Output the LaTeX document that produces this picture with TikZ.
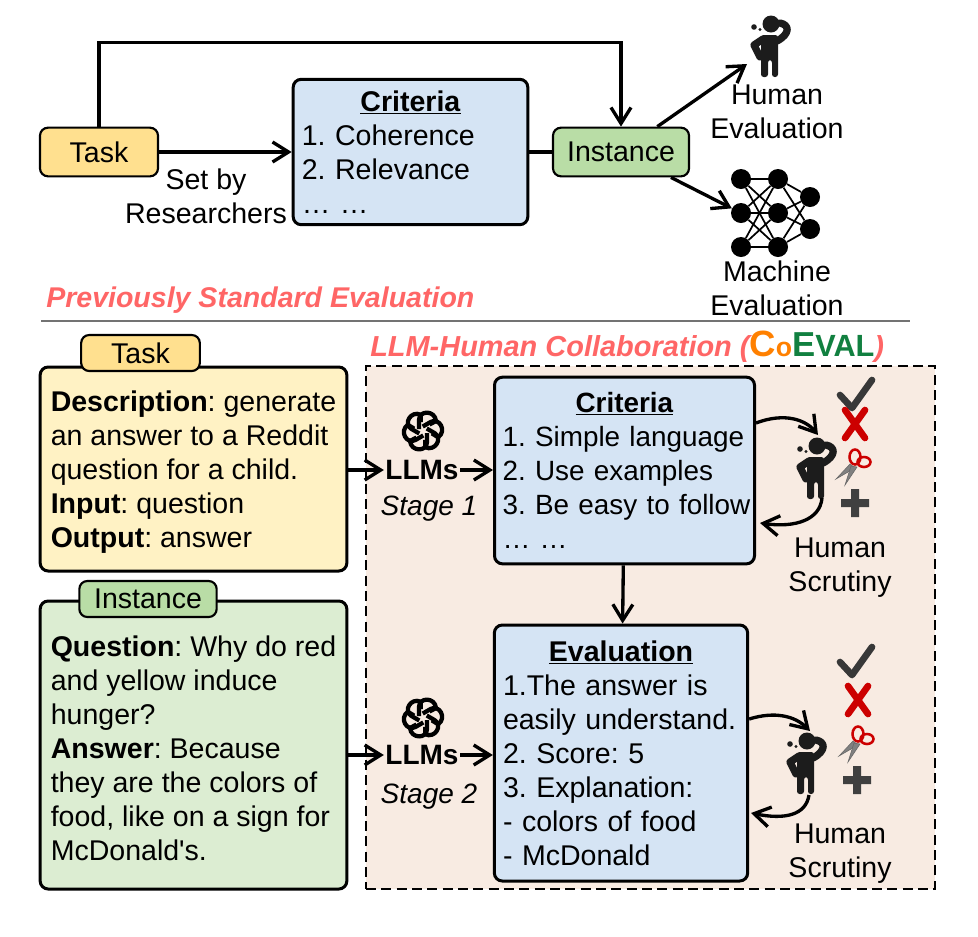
\documentclass[tikz,border=0pt]{standalone}
\usepackage{fontspec}
\setmainfont{Liberation Sans}
\usetikzlibrary{arrows.meta}

\definecolor{bluebox}{HTML}{D5E4F4}
\definecolor{yellowtab}{HTML}{FFE08F}
\definecolor{yellowbox}{HTML}{FFF2C4}
\definecolor{greentab}{HTML}{B9DDA6}
\definecolor{greenbox}{HTML}{DCEDD2}
\definecolor{peach}{HTML}{F8EBE2}
\definecolor{titlered}{HTML}{FF6666}
\definecolor{coorange}{HTML}{FF8000}
\definecolor{cogreen}{HTML}{118040}
\definecolor{darkicon}{HTML}{1C1C1C}
\definecolor{markred}{HTML}{CC0000}

\newcommand{\boxtitle}[1]{\makebox[\linewidth][c]{\underline{\textbf{#1}}}}
\newcommand{\lift}{\rule{0pt}{20pt}}
\frenchspacing
\hyphenpenalty=10000

\tikzset{
  txt/.style={font=\fontsize{21.4}{25.5}\selectfont, inner sep=0pt, align=center},
  card/.style={draw, rounded corners=6pt, line width=2.25pt, inner sep=0pt,
    font=\fontsize{21.4}{25.5}\selectfont, align=left},
  tab/.style={card, line width=1.6pt, align=center},
  arr/.style={line width=2.5pt, -{Straight Barb[length=12pt,width=15pt]}},
  llm/.style={font=\fontsize{21}{25.5}\selectfont\bfseries, inner sep=1pt},
  stage/.style={font=\fontsize{21}{25.5}\selectfont\itshape, inner sep=0pt},
  headline/.style={font=\fontsize{21.4}{25.5}\selectfont\bfseries\itshape, text=titlered, anchor=west, inner sep=0pt},
  neuron/.style={circle, fill=black, minimum size=15pt, inner sep=0pt},
  pics/thinker/.style={code={
    \fill[darkicon] (0,0) circle (8.5);
    \fill[darkicon] (-17,3) circle (2.8) (-11,5.5) circle (1.7);
    \draw[darkicon, line width=5.5pt, line cap=round, line join=round]
      (9,-1) .. controls (19,1) and (19,10) .. (6,17);
    \draw[darkicon, line width=5.5pt, line cap=round, line join=round]
      (-8,15) -- (-17,21) -- (-11,33);
    \fill[darkicon, rounded corners=2pt] (-10,11) -- (7,11) -- (7,53) -- (1,53) -- (1,36)
      -- (-3,36) -- (-3,53) -- (-10,53) -- cycle;
  }},
  pics/gptlogo/.style={code={
    \foreach \a in {0,60,...,300}
      \draw[black, rotate=\a, line width=3.2pt, line join=round]
        (-4,-2) -- (-4,-11) .. controls (-4,-21) and (12,-21) .. (13,-10) -- (6.5,-6.5);
  }},
  pics/scissors/.style={code={
    \draw[markred, line width=1.9pt] (2,-11) ellipse (5.5 and 7.5) (11,-6) ellipse (6.5 and 5);
    \filldraw[black!50, draw=black!60, line width=.4pt] (-3,-4) -- (-17,11) -- (2,0) -- cycle;
    \filldraw[black!50, draw=black!60, line width=.4pt] (-2,-2) -- (-8,17) -- (4,-1) -- cycle;
  }},
  pics/checkmark/.style={code={
    \draw[black!78, line width=5pt, line cap=round, line join=round] (-12,-13) -- (0,0) -- (20,-28);
  }},
  pics/crossmark/.style={code={
    \draw[markred, line width=5pt, line cap=round] (-10,-14) -- (10,14) (10,-14) -- (-10,14);
  }},
  pics/plusmark/.style={code={
    \fill[black!75] (-14,-4) rectangle (14,4) (-4,-14) rectangle (4,14);
  }},
}

\begin{document}
\begin{tikzpicture}[x=0.75pt, y=-0.75pt]
  \useasboundingbox (0,0) rectangle (978,936);

  % upper part
  \node[tab, fill=yellowtab, minimum width=88.5pt, minimum height=36.5pt] (task) at (99,152) {Task};
  \node[card, fill=bluebox, minimum width=176pt, minimum height=109pt, text width=163pt] (crit) at (410.5,152)
    {\boxtitle{Criteria}\\1. Coherence\\2. Relevance\\\dots\ \dots};
  \node[tab, fill=greentab, minimum width=102pt, minimum height=36.5pt] (inst) at (621,152) {Instance};
  \node[txt] (setby) at (206,196) {Set by\\Researchers};
  \node[txt] (hume) at (777,112) {Human\\Evaluation};
  \node[txt] (mache) at (777,288) {Machine\\Evaluation};
  \pic (humtop) at (771,24) {thinker};
  \coordinate (humanpt) at (747,64);

  % neurons
  \foreach \n/\x/\y in {a1/741/179, a2/741/213, a3/741/247, b1/778/179, b2/778/213, b3/778/247, c1/810/197, c2/810/229}
    \node[neuron] (\n) at (\x,\y) {};
  \foreach \s in {a1,a2,a3}
    \foreach \t in {b1,b2,b3}
      \draw[line width=1.3pt] (\s) -- (\t);
  \foreach \s in {b1,b2,b3}
    \foreach \t in {c1,c2}
      \draw[line width=1.3pt] (\s) -- (\t);

  \draw[arr] (task.north) -- ++(0,-84) -| (inst.north);
  \draw[arr] (task) -- (crit);
  \draw[line width=2.5pt] (crit) -- (inst);
  \draw[arr] (inst) -- (humanpt);
  \draw[arr] (inst) -- (a2);

  % separator
  \node[headline] (prev) at (46,300) {Previously Standard Evaluation};
  \coordinate (sepl) at (41,321);
  \coordinate (sepr) at (910,321);
  \draw[black!55, line width=1.3pt] (sepl) -- (sepr);

  % collaboration frame
  \node[draw, dash pattern=on 7.5pt off 4pt, fill=peach, line width=1.4pt, minimum width=426.75pt, minimum height=392.25pt, inner sep=0pt] (frame) at (650.5,627.5) {};
  \node[headline, font=\fontsize{21.7}{25.5}\selectfont\bfseries\itshape] (collab) at (370,347)
    {LLM-Human Collaboration (\textcolor{coorange}{\fontsize{27.4}{26}\selectfont\upshape C\fontsize{20}{18}\selectfont o}\textcolor{cogreen}{\fontsize{26}{26}\selectfont\upshape E\fontsize{23}{19}\selectfont VAL})};

  % left cards
  \node[card, fill=yellowbox, minimum width=230pt, minimum height=153pt] (taskcard) at (193.5,469)
    {\lift\textbf{Description}: generate\\an answer to a Reddit\\question for a child.\\\textbf{Input}: question\\\textbf{Output}: answer};
  \node[tab, fill=yellowtab, minimum width=89pt, minimum height=27pt] (tasktab) at (140.5,353) {Task};
  \node[card, fill=greenbox, minimum width=230pt, minimum height=216pt] (instcard) at (193.5,745)
    {\lift\textbf{Question}: Why do red\\and yellow induce\\hunger?\\\textbf{Answer}: Because\\they are the colors of\\food, like on a sign for\\McDonald\textquotesingle s.};
  \node[tab, fill=greentab, minimum width=103pt, minimum height=27pt] (insttab) at (148,599) {Instance};

  % stage boxes
  \node[card, fill=bluebox, font=\fontsize{20.9}{25.5}\selectfont, minimum width=195pt, minimum height=140pt, text width=183pt] (critb) at (624.5,470.5)
    {\boxtitle{Criteria}\\\mbox{1. Simple language}\\2. Use examples\\\mbox{3. Be easy to follow}\\\dots\ \dots};
  \node[card, fill=bluebox, minimum width=190pt, minimum height=192pt, text width=177pt] (evalb) at (621,753)
    {\boxtitle{Evaluation}\\1.The answer is\\easily understand.\\2. Score: 5\\3. Explanation:\\- colors of food\\- McDonald};
  \draw[arr] (critb) -- (evalb);

  \node[llm] (llma) at (422,470) {LLMs};
  \node[stage] (stagea) at (429,509) {Stage 1};
  \pic (logoa) at (423,431) {gptlogo};
  \draw[arr] (taskcard.east |- llma) -- (llma);
  \draw[arr] (llma) -- (critb.west |- llma);

  \node[llm] (llmb) at (422,755) {LLMs};
  \node[stage] (stageb) at (429,797) {Stage 2};
  \pic (logob) at (423,718) {gptlogo};
  \draw[arr] (instcard.east |- llmb) -- (llmb);
  \draw[arr] (llmb) -- (evalb.west |- llmb);

  % human scrutiny
  \pic (huma) at (817,446) {thinker};
  \coordinate (humain) at (818,435);
  \coordinate (humaout) at (822,498);
  \coordinate (humaback) at (760,523);
  \pic (checka) at (852,408) {checkmark};
  \pic (crossa) at (855,424) {crossmark};
  \pic (scisa) at (853,468) {scissors};
  \pic (plusa) at (855,503) {plusmark};
  \node[txt] (scruta) at (840,568) {Human\\Scrutiny};
  \draw[arr] (critb.east |- 0,423) .. controls (785,412) and (806,420) .. (humain);
  \draw[arr] (humaout) .. controls (820,520) and (795,528) .. (humaback);

  \pic (humb) at (807,741) {thinker};
  \coordinate (humbin) at (810,731);
  \coordinate (humbout) at (809,795);
  \coordinate (humbback) at (751,813);
  \pic (checkb) at (852,675) {checkmark};
  \pic (crossb) at (858,700) {crossmark};
  \pic (scisb) at (856,745) {scissors};
  \pic (plusb) at (857,780) {plusmark};
  \node[txt] (scrutb) at (840,854) {Human\\Scrutiny};
  \draw[arr] (evalb.east |- 0,719) .. controls (775,711) and (795,716) .. (humbin);
  \draw[arr] (humbout) .. controls (806,815) and (785,820) .. (humbback);
\end{tikzpicture}
\end{document}
